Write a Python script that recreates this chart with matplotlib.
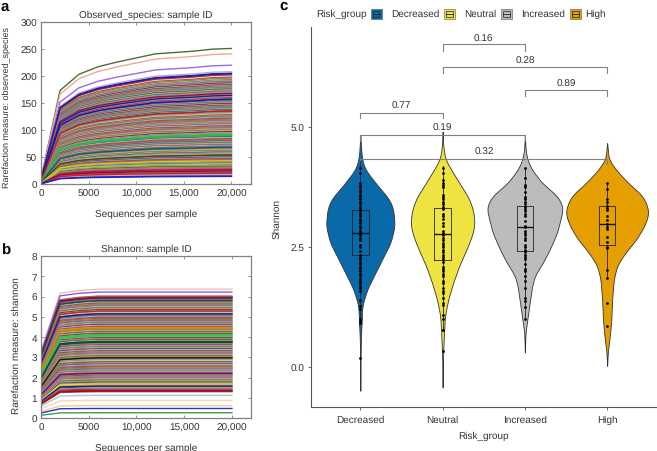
#!/usr/bin/env python3

"""Rarefaction curves and Shannon violins by risk group."""

import numpy as np
import matplotlib
matplotlib.use("Agg")
import matplotlib.pyplot as plt
from matplotlib.patches import Rectangle
from matplotlib.lines import Line2D

plt.rcParams['font.family'] = ['Liberation Sans', 'DejaVu Sans']
plt.rcParams['text.hinting'] = 'no_hinting'
plt.rcParams['text.hinting_factor'] = 1

# * Data

depths = [0, 2000, 4000, 6000, 8000, 10000, 12000, 14000, 16000, 18000, 20000]

# Curve shape, as share of the value at 20,000.
obs_shape = [0.04, 0.69, 0.81, 0.865, 0.90, 0.93, 0.96, 0.97, 0.98, 0.995, 1.0]
sha_shape = [0.52, 0.97, 0.99, 1.0, 1.0, 1.0, 1.0, 1.0, 1.0, 1.0, 1.0]

obs_top = [251, 241, 220, 208, 205, 202]
obs_top_colors = ['#4f6b3c', '#f0a898', '#9a6ae6', '#b8a8d8', '#20209c', '#c02848']
obs_final = [198, 196, 193, 192, 190, 188, 187, 185, 184, 182, 180, 179, 177, 176,
             174, 172, 171, 169, 168, 166, 165, 163, 162, 160, 158, 157, 155, 153,
             152, 150, 149, 147, 146, 144, 142, 141, 139, 138, 136, 135, 133, 131,
             130, 128, 127, 125, 124, 122, 120, 119, 117, 116, 114, 113, 111, 110,
             108, 106, 105, 103, 102, 100, 99, 97, 95, 94, 92, 91, 89, 88, 86, 84,
             83, 81, 80, 78, 77, 75, 73, 72, 70, 69, 67, 66, 64, 62, 61, 59, 58, 56,
             55, 53, 51, 50, 48, 47, 45, 44, 42, 40, 39, 37, 36, 34, 33, 31, 29, 28,
             26, 25, 23, 21, 20, 18, 17]
obs_accent = [204, 168, 164, 157, 135, 92, 90, 68, 54, 43, 37, 27, 24, 20, 15, 14]
obs_accent_colors = ['#20209c', '#a01040', '#20209c', '#1818a0', '#c02020', '#28c040',
                     '#30b848', '#0a5a70', '#4a4a10', '#d8c820', '#a8c848', '#c01030',
                     '#a00828', '#d01848', '#3030d8', '#2020c0']

sha_top = [6.36, 6.22]
sha_top_colors = ['#f5c0b0', '#8060e0']
sha_final = [6.02, 5.98, 5.94, 5.9, 5.85, 5.8, 5.76, 5.72, 5.67, 5.62, 5.58, 5.54,
             5.49, 5.44, 5.4, 5.35, 5.3, 5.25, 5.2, 5.15, 5.1, 5.06, 5.02, 4.97, 4.92,
             4.87, 4.82, 4.77, 4.72, 4.67, 4.62, 4.57, 4.52, 4.47, 4.42, 4.37, 4.32,
             4.27, 4.22, 4.17, 4.12, 4.07, 4.02, 3.97, 3.92, 3.87, 3.82, 3.77, 3.72,
             3.67, 3.62, 3.57, 3.52, 3.47, 3.42, 3.37, 3.32, 3.27, 3.22, 3.17, 3.12,
             3.07, 3.02, 2.97, 2.92, 2.87, 2.82, 2.77, 2.72, 2.67, 2.62, 2.57, 2.52,
             2.47, 2.42, 2.37, 2.32, 2.27, 2.22, 2.17, 2.12, 2.07, 2.02, 1.97, 1.92,
             1.87, 1.82, 1.77, 1.72, 1.66, 1.6, 1.54, 1.48, 1.42, 1.36, 1.3]
sha_low = [1.12, 0.87, 0.61, 0.47, 0.26]
sha_low_colors = ['#a8c8d0', '#f5d8b0', '#f2c9a0', '#3030d0', '#409a48']
sha_accent = [5.96, 5.92, 5.8, 5.28, 5.14, 4.47, 4.42, 4.12, 4.05, 3.78, 3.74, 3.02,
              2.97, 2.2, 1.68, 1.58, 1.37, 1.33]
sha_accent_colors = ['#7a1060', '#900a50', '#205030', '#d02040', '#1a2090', '#e09000',
                     '#d88000', '#30c848', '#38c050', '#104828', '#184a30', '#c09000',
                     '#181810', '#800090', '#e0e020', '#1818a0', '#d01010', '#a01010']

line_palette = ['#b5533c', '#8f8f3a', '#6a5aa8', '#d28b8b', '#3f8f7f', '#c9a15a',
                '#8a2b6a', '#9fb0d8', '#a0522d', '#5f9e6e', '#c25a7a', '#7c7c9c',
                '#e0a040', '#2e6f9e', '#b0b060', '#903030', '#70a8a0', '#a878c0',
                '#d0c080', '#506040', '#d87850', '#4060a0', '#98c088', '#a04880']

groups = ['Decreased', 'Neutral', 'Increased', 'High']
group_colors = ['#0a6aa9', '#efe341', '#bcbcbc', '#e69f00']

# Violin outlines: Shannon value and half width.
dec_v = [4.84, 4.6, 4.34, 4.13, 3.85, 3.64, 3.51, 3.30, 2.95, 2.60, 2.26, 1.91, 1.63,
         1.29, 0.94, 0.66, 0.38, -0.49]
dec_w = [0, 0.008, 0.02, 0.057, 0.18, 0.284, 0.349, 0.40, 0.418, 0.369, 0.268, 0.166,
         0.085, 0.024, 0.016, 0.008, 0.004, 0]
neu_v = [4.91, 4.6, 4.34, 4.13, 3.85, 3.51, 3.23, 2.97, 2.74, 2.46, 2.12, 1.77, 1.42,
         1.07, 0.66, 0.38, 0.10, -0.42]
neu_w = [0, 0.008, 0.032, 0.10, 0.20, 0.324, 0.377, 0.389, 0.357, 0.292, 0.203, 0.13,
         0.069, 0.028, 0.016, 0.008, 0.004, 0]
inc_v = [4.84, 4.55, 4.34, 4.13, 3.85, 3.58, 3.44, 3.30, 3.09, 2.81, 2.46, 2.19, 1.91,
         1.70, 1.42, 1.07, 0.73, 0.31]
inc_w = [0, 0.008, 0.028, 0.081, 0.203, 0.385, 0.438, 0.462, 0.434, 0.393, 0.304, 0.223,
         0.122, 0.089, 0.065, 0.036, 0.008, 0]
hig_v = [4.67, 4.34, 4.13, 3.85, 3.58, 3.37, 3.19, 2.95, 2.67, 2.39, 2.12, 1.84, 1.42,
         0.94, 0.59, 0.31, 0.03]
hig_w = [0, 0.02, 0.10, 0.25, 0.426, 0.487, 0.503, 0.454, 0.357, 0.223, 0.122, 0.081,
         0.061, 0.049, 0.028, 0.008, 0]

# Box stats: low whisker, Q1, median, Q3, high whisker.
box_stats = [(0.95, 2.33, 2.80, 3.28, 4.30), (0.80, 2.23, 2.78, 3.31, 4.20),
             (1.00, 2.42, 2.92, 3.36, 4.15), (1.87, 2.54, 2.98, 3.36, 3.85)]

dec_pts = [4.15, 4.04, 3.85, 3.8, 3.75, 3.7, 3.65, 3.6, 3.55, 3.5, 3.45, 3.4, 3.35, 3.3,
           3.25, 3.2, 3.15, 3.1, 3.05, 3.0, 2.95, 2.9, 2.85, 2.8, 2.75, 2.7, 2.65, 2.55,
           2.5, 2.42, 2.35, 2.3, 2.25, 2.2, 2.15, 2.1, 2.05, 2.0, 1.95, 1.9, 1.85, 1.8,
           1.75, 1.7, 1.65, 1.6, 1.4, 1.27, 1.22, 1.0, 0.97, 0.93, 0.2]
neu_pts = [4.15, 4.04, 3.9, 3.85, 3.8, 3.75, 3.6, 3.55, 3.5, 3.45, 3.4, 3.35, 3.3, 3.2,
           3.15, 3.1, 3.0, 2.95, 2.85, 2.8, 2.75, 2.7, 2.65, 2.6, 2.55, 2.5, 2.45, 2.4,
           2.35, 2.3, 2.25, 2.2, 2.1, 2.05, 2.0, 1.95, 1.9, 1.8, 1.75, 1.65, 1.6, 1.55,
           1.45, 1.35, 1.3, 1.1, 1.0, 0.78, 0.77, 0.35]
inc_pts = [4.15, 3.95, 3.8, 3.75, 3.65, 3.55, 3.5, 3.45, 3.4, 3.35, 3.3, 3.25, 3.2, 3.15,
           3.05, 2.95, 2.92, 2.85, 2.8, 2.75, 2.7, 2.65, 2.55, 2.5, 2.45, 2.4, 2.35, 2.3,
           2.25, 2.15, 2.05, 2.0, 1.9, 1.8, 1.65, 1.45, 1.38, 1.25, 1.0]
hig_pts = [3.85, 3.71, 3.51, 3.45, 3.37, 3.31, 3.28, 3.16, 3.07, 2.98, 2.93, 2.89, 2.72,
           2.61, 2.51, 2.48, 2.03, 1.87, 1.33, 0.87]

# P-value brackets: left group, right group, height, drop, label, label x, label y.
brackets = [(2, 3, 6.735, 0.135, '0.16', 2.5, 6.86),
            (2, 4, 6.25, 0.12, '0.28', 3.0, 6.39),
            (3, 4, 5.78, 0.12, '0.89', 3.5, 5.92),
            (1, 2, 5.30, 0.11, '0.77', 1.5, 5.45),
            (1, 3, 4.84, 0.12, '0.19', 2.0, 4.99),
            (1, 4, 4.35, 0.12, '0.32', 2.51, 4.49)]

# * Figure

W, H = 657, 452
fig = plt.figure(figsize=(W / 100, H / 100), dpi=100)


def add_axes_px(left, top, right, bottom):
    return fig.add_axes([left / W, 1 - bottom / H, (right - left) / W, (bottom - top) / H])


def rarefaction(ax, line_sets, shape, ylim, yticks, title, ylabel, ylabel_size):
    for finals, colors in line_sets:
        for i, final in enumerate(finals):
            ax.plot(depths, np.array(shape) * final, color=colors[i % len(colors)], lw=1.0,
                    solid_joinstyle='round')
    ax.set_xlim(0, 22000)
    ax.set_ylim(*ylim)
    ax.set_xticks([0, 5000, 10000, 15000, 20000])
    ax.set_xticklabels(['0', '5000', '10,000', '15,000', '20,000'])
    ax.set_yticks(yticks)
    ax.tick_params(direction='in', length=2, width=0.6, color='#808080', labelsize=6.9,
                   labelcolor='#333333', top=True, right=True, pad=3)
    for s in ax.spines.values():
        s.set_color('#808080')
        s.set_linewidth(0.9)
    ax.set_title(title, fontsize=6.9, color='#333333', pad=4)
    ax.set_xlabel('Sequences per sample', fontsize=6.9, color='#333333')
    ax.xaxis.set_label_coords(0.5, -0.155)
    ax.set_ylabel(ylabel, fontsize=ylabel_size, color='#333333')


# * Panel a

ax_a = add_axes_px(41, 23, 250.5, 185)
rarefaction(ax_a, [(obs_final, line_palette), (obs_top, obs_top_colors),
                   (obs_accent, obs_accent_colors)],
            obs_shape, (0, 300), range(0, 301, 50),
            'Observed_species: sample ID', 'Rarefaction measure: observed_species', 6.6)
ax_a.yaxis.set_label_coords(-0.145, 0.478)

# * Panel b

ax_b = add_axes_px(41, 257, 251, 419)
rarefaction(ax_b, [(sha_final, line_palette), (sha_top, sha_top_colors),
                   (sha_low, sha_low_colors), (sha_accent, sha_accent_colors)],
            sha_shape, (0, 8), range(0, 9),
            'Shannon: sample ID', 'Rarefaction measure: shannon', 6.9)
ax_b.yaxis.set_label_coords(-0.095, 0.45)

# * Panel c

ax_c = add_axes_px(311.3, 28, 657, 408.3)
ax_c.set_xlim(0.404, 4.606)
ax_c.set_ylim(-0.833, 7.09)

profiles = [(dec_v, dec_w), (neu_v, neu_w), (inc_v, inc_w), (hig_v, hig_w)]
points = [dec_pts, neu_pts, inc_pts, hig_pts]

for g1, g2, height, drop, label, lx, ly in brackets:
    ax_c.plot([g1, g1, g2, g2], [height - drop, height, height, height - drop],
              color='#808080', lw=0.8, zorder=3)
    ax_c.text(lx, ly, label, ha='center', va='center', fontsize=7.1, color='#333333')

for i, (vals, widths) in enumerate(profiles):
    pos = i + 1
    # Round off the read outline.
    yy = np.linspace(vals[-1], vals[0], 240)
    ww = np.interp(yy, vals[::-1], widths[::-1])
    ww = np.convolve(np.pad(ww, 5, mode='edge'), np.ones(11) / 11, mode='valid')
    ax_c.fill_betweenx(yy, pos - ww, pos + ww, facecolor=group_colors[i], edgecolor='#333333',
                       lw=0.6, zorder=2)
    low, q1, med, q3, high = box_stats[i]
    ax_c.bxp([{'whislo': low, 'q1': q1, 'med': med, 'q3': q3, 'whishi': high, 'fliers': []}],
             positions=[pos], widths=0.2, showcaps=False, showfliers=False, manage_ticks=False,
             boxprops={'color': '#222222', 'lw': 0.6},
             whiskerprops={'color': '#222222', 'lw': 0.6},
             medianprops={'color': '#111111', 'lw': 1.0}, zorder=4)
    ax_c.scatter([pos] * len(points[i]), points[i], s=4, color='black', lw=0, zorder=5)

ax_c.set_xticks([1, 2, 3, 4])
ax_c.set_xticklabels(groups)
ax_c.set_yticks([0, 2.5, 5.0])
ax_c.set_yticklabels(['0.0', '2.5', '5.0'])
ax_c.tick_params(length=2, width=0.6, color='#555555', labelsize=7.1, labelcolor='#333333', pad=3)
ax_c.spines['top'].set_visible(False)
ax_c.spines['right'].set_visible(False)
ax_c.spines['left'].set_color('#555555')
ax_c.spines['bottom'].set_color('#555555')
ax_c.set_xlabel('Risk_group', fontsize=7.1, color='#333333')
ax_c.set_ylabel('Shannon', fontsize=7.1, color='#333333')
ax_c.xaxis.set_label_coords((483 - 311.3) / 345.7, -(432 - 408.3) / 380.3)
ax_c.yaxis.set_label_coords(-(311.3 - 282) / 345.7, (408.3 - 219) / 380.3)

# * Legend row


def fx(x):
    return x / W


def fy(y):
    return 1 - y / H


fig.text(fx(316.5), fy(14.7), 'Risk_group', fontsize=7.1, color='#333333', va='center')
swatch_x = [370.5, 444, 501, 569.5]
label_x = [391, 464, 520.7, 584.7]
for x, tx, name, col in zip(swatch_x, label_x, groups, group_colors):
    fig.add_artist(Rectangle((fx(x), fy(19.5)), 11 / W, 10 / H, transform=fig.transFigure,
                             facecolor=col, edgecolor='#555555', lw=0.4))
    fig.add_artist(Rectangle((fx(x + 2), fy(17.5)), 7 / W, 6 / H, transform=fig.transFigure,
                             facecolor=col, edgecolor='#222222', lw=0.5))
    fig.add_artist(Line2D([fx(x + 2), fx(x + 9)], [fy(14.5), fy(14.5)],
                          transform=fig.transFigure, color='#222222', lw=0.6))
    fig.text(fx(tx), fy(14.7), name, fontsize=7.1, color='#333333', va='center')

# * Panel letters

fig.text(fx(1), fy(7), 'a', fontsize=11, fontweight='bold', va='center')
fig.text(fx(1), fy(251), 'b', fontsize=11, fontweight='bold', va='center')
fig.text(fx(279), fy(6), 'c', fontsize=11, fontweight='bold', va='center')

fig.savefig('out.png', dpi=100)
